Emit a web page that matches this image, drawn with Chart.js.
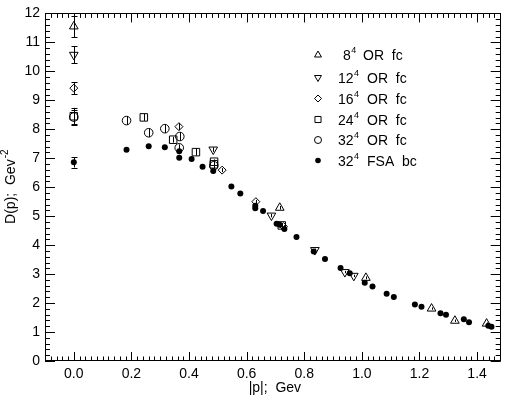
<!DOCTYPE html>
<html>
<head>
<meta charset="utf-8">
<script src="https://cdn.jsdelivr.net/npm/chart.js@4.4.0/dist/chart.umd.min.js"></script>
<style>
  html, body { margin: 0; padding: 0; background: #fff; }
  #wrap { width: 507px; height: 397px; }
</style>
</head>
<body>
<div id="wrap"><canvas id="c" width="507" height="397"></canvas></div>
<script>
// 8^4 OR fc
const p8 = [0, 0.715, 1.014, 1.242, 1.323, 1.433];
const d8 = [11.55, 5.29, 2.87, 1.81, 1.39, 1.29];
const e8 = [0.37, 0.06, 0.05, 0.04, 0.04, 0.04];
// 12^4 OR fc
const p12 = [0, 0.484, 0.686, 0.837, 0.941, 0.972];
const d12 = [10.57, 7.30, 5.02, 3.83, 3.07, 2.94];
const e12 = [0.29, 0.08, 0.06, 0.05, 0.04, 0.04];
// 16^4 OR fc
const p16 = [0, 0.365, 0.515, 0.632, 0.728];
const d16 = [9.42, 8.09, 6.59, 5.50, 4.64];
const e16 = [0.21, 0.12, 0.07, 0.06, 0.05];
// 24^4 OR fc
const p24 = [0, 0.243, 0.345, 0.424, 0.486, 0.487, 0.722];
const d24 = [8.45, 8.41, 7.64, 7.21, 6.79, 6.88, 4.68];
const e24 = [0.29, 0.12, 0.10, 0.12, 0.10, 0.08, 0.05];
// 32^4 OR fc
const p32 = [0, 0.183, 0.260, 0.316, 0.368, 0.366, 0.486];
const d32 = [8.42, 8.30, 7.88, 8.02, 7.75, 7.36, 6.74];
const e32 = [0.25, 0.15, 0.15, 0.15, 0.15, 0.12, 0.10];
// 32^4 FSA bc
const pFSA = [0, 0.183, 0.260, 0.316, 0.366, 0.366, 0.409, 0.447, 0.484, 0.547, 0.578,
  0.630, 0.630, 0.657, 0.704, 0.715, 0.731, 0.773, 0.833, 0.872, 0.926, 0.958,
  1.010, 1.037, 1.086, 1.111, 1.184, 1.207, 1.273, 1.292, 1.354, 1.372, 1.439, 1.450];
const dFSA = [6.86, 7.29, 7.41, 7.38, 7.24, 7.02, 6.97, 6.71, 6.56, 6.02, 5.78,
  5.36, 5.27, 5.18, 4.74, 4.70, 4.56, 4.28, 3.78, 3.52, 3.21, 3.03,
  2.70, 2.57, 2.32, 2.21, 1.95, 1.87, 1.65, 1.60, 1.44, 1.34, 1.22, 1.18];
const eFSA = [0.18, 0.06, 0.06, 0.06, 0.06, 0.06, 0.05, 0.05, 0.05, 0.05, 0.05,
  0.05, 0.05, 0.05, 0.04, 0.04, 0.04, 0.04, 0.04, 0.04, 0.03, 0.03,
  0.03, 0.03, 0.03, 0.03, 0.02, 0.02, 0.02, 0.02, 0.02, 0.02, 0.02, 0.02];

const seriesNames = ['8', '12', '16', '24', '32', '32'];
const seriesTags = ['OR  fc', 'OR  fc', 'OR  fc', 'OR  fc', 'OR  fc', 'FSA  bc'];
const xTickVals = [0, 0.2, 0.4, 0.6, 0.8, 1.0, 1.2, 1.4];
const yTickVals = [0, 1, 2, 3, 4, 5, 6, 7, 8, 9, 10, 11, 12];

function pts(xs, ys) {
  return xs.map((x, i) => ({ x: x, y: ys[i] }));
}

const sets = [
  { xs: p8, ys: d8, err: e8, style: 'triangle', rot: 0, r: 5, fill: false },
  { xs: p12, ys: d12, err: e12, style: 'triangle', rot: 180, r: 5, fill: false },
  { xs: p16, ys: d16, err: e16, style: 'rectRot', rot: 0, r: 4, fill: false },
  { xs: p24, ys: d24, err: e24, style: 'rect', rot: 0, r: 5.3, fill: false },
  { xs: p32, ys: d32, err: e32, style: 'circle', rot: 0, r: 4.3, fill: false },
  { xs: pFSA, ys: dFSA, err: eFSA, style: 'circle', rot: 0, r: 3, fill: true }
];

const datasets = sets.map((s, i) => ({
  label: seriesNames[i] + ' ' + seriesTags[i],
  data: pts(s.xs, s.ys),
  err: s.err,
  pointStyle: s.style,
  rotation: s.rot,
  pointRadius: s.r,
  pointHoverRadius: s.r,
  borderColor: '#000',
  backgroundColor: s.fill ? '#000' : 'rgba(0,0,0,0)',
  borderWidth: s.fill ? 0 : 1,
  showLine: false
}));

const FONT = '"Liberation Sans", Arial, Helvetica, sans-serif';

// vertical error bars
const errorBars = {
  id: 'errorBars',
  beforeDatasetsDraw(chart) {
    const ctx = chart.ctx;
    const xs = chart.scales.x, ys = chart.scales.y;
    ctx.save();
    ctx.strokeStyle = '#000';
    ctx.lineWidth = 1;
    chart.data.datasets.forEach(ds => {
      ds.data.forEach((pt, i) => {
        const e = ds.err[i];
        const px = Math.round(xs.getPixelForValue(pt.x)) + 0.5;
        const y1 = ys.getPixelForValue(pt.y + e);
        const y2 = ys.getPixelForValue(pt.y - e);
        ctx.beginPath();
        ctx.moveTo(px, y1); ctx.lineTo(px, y2);
        if (e > 0.15) {
          ctx.moveTo(px - 3, Math.round(y1) + 0.5); ctx.lineTo(px + 3, Math.round(y1) + 0.5);
          ctx.moveTo(px - 3, Math.round(y2) + 0.5); ctx.lineTo(px + 3, Math.round(y2) + 0.5);
        }
        ctx.stroke();
      });
    });
    ctx.restore();
  }
};

// frame, inward ticks, axis titles, legend
const decor = {
  id: 'decor',
  afterDraw(chart) {
    const ctx = chart.ctx;
    const a = chart.chartArea;
    const xs = chart.scales.x, ys = chart.scales.y;
    ctx.save();
    ctx.strokeStyle = '#000';
    ctx.lineWidth = 1;
    ctx.strokeRect(Math.round(a.left) + 0.5, Math.round(a.top) + 0.5,
      Math.round(a.right - a.left) - 1, Math.round(a.bottom - a.top) - 1);

    ctx.beginPath();
    // x ticks, minor every 0.02
    for (let k = -5; k <= 74; k++) {
      const v = k * 0.02;
      if (v < xs.min - 1e-9 || v > xs.max + 1e-9) continue;
      const px = Math.round(xs.getPixelForValue(v)) + 0.5;
      const len = (k % 10 === 0) ? 9 : 4.5;
      ctx.moveTo(px, a.bottom); ctx.lineTo(px, a.bottom - len);
      ctx.moveTo(px, a.top); ctx.lineTo(px, a.top + len);
    }
    // y ticks, minor every 0.2
    for (let k = 0; k <= 60; k++) {
      const v = k * 0.2;
      const py = Math.round(ys.getPixelForValue(v)) + 0.5;
      const len = (k % 5 === 0) ? 10 : 5;
      ctx.moveTo(a.left, py); ctx.lineTo(a.left + len, py);
      ctx.moveTo(a.right, py); ctx.lineTo(a.right - len, py);
    }
    ctx.stroke();

    ctx.fillStyle = '#000';
    // x title
    ctx.font = '14px ' + FONT;
    ctx.textAlign = 'center';
    ctx.textBaseline = 'alphabetic';
    ctx.fillText('|p|;  Gev', (a.left + a.right) / 2 + 2, 392);

    // y title with superscript
    ctx.save();
    ctx.translate(15, (a.top + a.bottom) / 2);
    ctx.rotate(-Math.PI / 2);
    ctx.textAlign = 'left';
    ctx.font = '14px ' + FONT;
    const main = 'D(p);  Gev';
    const wMain = ctx.measureText(main).width;
    ctx.font = '10px ' + FONT;
    const wSup = ctx.measureText('-2').width;
    const x0 = -(wMain + wSup) / 2;
    ctx.font = '14px ' + FONT;
    ctx.fillText(main, x0, 0);
    ctx.font = '10px ' + FONT;
    ctx.fillText('-2', x0 + wMain + 1, -7);
    ctx.restore();

    // legend
    const rowY = [55, 77.5, 98.5, 119.5, 140, 160.5];
    chart.data.datasets.forEach((ds, i) => {
      const y = rowY[i];
      const st = sets[i];
      ctx.save();
      ctx.strokeStyle = '#000';
      ctx.fillStyle = st.fill ? '#000' : 'rgba(0,0,0,0)';
      ctx.lineWidth = 1;
      Chart.helpers.drawPoint(ctx, {
        pointStyle: st.style,
        rotation: st.rot,
        radius: st.fill ? 2.8 : Math.max(3.5, st.r - 1),
        borderWidth: st.fill ? 0 : 1
      }, 318, y);
      ctx.restore();

      ctx.fillStyle = '#000';
      ctx.textAlign = 'left';
      ctx.textBaseline = 'alphabetic';
      ctx.font = '14px ' + FONT;
      const nx = i === 0 ? 343 : 338;
      ctx.fillText(seriesNames[i], nx, y + 5);
      const nw = ctx.measureText(seriesNames[i]).width;
      ctx.font = '9px ' + FONT;
      ctx.fillText('4', nx + nw + 0.5, y - 2);
      ctx.font = '14px ' + FONT;
      ctx.fillText(seriesTags[i], i === 0 ? 363 : 367, y + 5);
    });
    ctx.restore();
  }
};

new Chart(document.getElementById('c').getContext('2d'), {
  type: 'scatter',
  data: { datasets: datasets },
  options: {
    responsive: false,
    animation: false,
    devicePixelRatio: 1,
    layout: { padding: { top: 6, right: 5, left: 0, bottom: 0 } },
    plugins: {
      legend: { display: false },
      tooltip: { enabled: false }
    },
    scales: {
      x: {
        type: 'linear',
        min: -0.1,
        max: 1.482,
        grid: { display: false, drawTicks: false },
        border: { display: false },
        afterBuildTicks: s => { s.ticks = xTickVals.map(v => ({ value: v })); },
        afterFit: s => { s.height = 36; },
        ticks: {
          color: '#000',
          padding: 5,
          maxRotation: 0,
          autoSkip: false,
          font: { family: FONT, size: 14 },
          callback: v => Number(v).toFixed(1)
        }
      },
      y: {
        type: 'linear',
        min: 0,
        max: 12,
        grid: { display: false, drawTicks: false },
        border: { display: false },
        afterBuildTicks: s => { s.ticks = yTickVals.map(v => ({ value: v })); },
        afterFit: s => { s.width = 45; },
        ticks: {
          color: '#000',
          padding: 5,
          autoSkip: false,
          font: { family: FONT, size: 14 },
          callback: v => String(v)
        }
      }
    }
  },
  plugins: [errorBars, decor]
});
</script>
</body>
</html>
